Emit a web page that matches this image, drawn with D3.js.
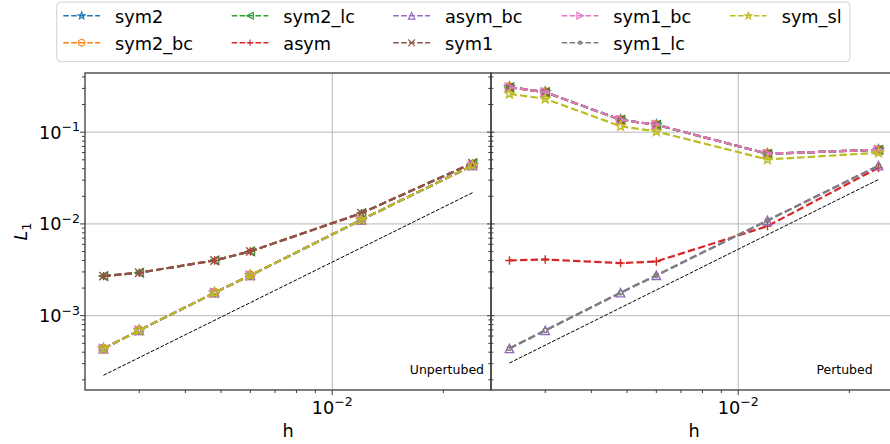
<!DOCTYPE html>
<html>
<head>
<meta charset="utf-8">
<script src="https://cdn.jsdelivr.net/npm/d3@7"></script>
<style>
  html, body { margin: 0; padding: 0; background: #fff; }
  svg { display: block; font-family: "DejaVu Sans", sans-serif; }
</style>
</head>
<body>
<svg id="chart" width="890" height="444"></svg>
<script>
// ---------------- DATA ----------------
const h = [0.0024, 0.003, 0.0048, 0.006, 0.012, 0.024];

// Unperturbed panel
const unp_sym2    = [4.37e-4, 6.92e-4, 1.78e-3, 2.75e-3, 1.11e-2, 4.34e-2];
const unp_sym2_bc = [4.37e-4, 6.92e-4, 1.78e-3, 2.75e-3, 1.11e-2, 4.34e-2];
const unp_sym2_lc = [2.70e-3, 2.94e-3, 4.00e-3, 5.02e-3, 1.31e-2, 4.60e-2];
const unp_asym    = [2.70e-3, 2.94e-3, 4.00e-3, 5.02e-3, 1.31e-2, 4.60e-2];
const unp_asym_bc = [4.37e-4, 6.92e-4, 1.78e-3, 2.75e-3, 1.11e-2, 4.34e-2];
const unp_sym1    = [2.70e-3, 2.94e-3, 4.00e-3, 5.02e-3, 1.31e-2, 4.60e-2];
const unp_sym1_bc = [4.37e-4, 6.92e-4, 1.78e-3, 2.75e-3, 1.11e-2, 4.34e-2];
const unp_sym1_lc = [4.37e-4, 6.92e-4, 1.78e-3, 2.75e-3, 1.11e-2, 4.34e-2];
const unp_sym_sl  = [4.37e-4, 6.92e-4, 1.78e-3, 2.75e-3, 1.11e-2, 4.34e-2];

// Perturbed panel
const per_sym2    = [0.309, 0.273, 0.1365, 0.1204, 0.0582, 0.0643];
const per_sym2_bc = [0.309, 0.273, 0.1365, 0.1204, 0.0582, 0.0643];
const per_sym2_lc = [0.309, 0.273, 0.1365, 0.1204, 0.0582, 0.0643];
const per_asym    = [4.00e-3, 4.10e-3, 3.74e-3, 3.90e-3, 9.46e-3, 4.10e-2];
const per_asym_bc = [4.40e-4, 6.90e-4, 1.78e-3, 2.75e-3, 1.09e-2, 4.31e-2];
const per_sym1    = [0.309, 0.273, 0.1365, 0.1204, 0.0582, 0.0643];
const per_sym1_bc = [0.309, 0.273, 0.1365, 0.1204, 0.0582, 0.0643];
const per_sym1_lc = [4.40e-4, 6.90e-4, 1.78e-3, 2.75e-3, 1.09e-2, 4.31e-2];
const per_sym_sl  = [0.262, 0.231, 0.1162, 0.1017, 0.0504, 0.0597];

// Reference (second-order) lines
const hRef = [0.0024, 0.024];
const refUnp = [2.24e-4, 2.19e-2];
const refPer = [3.05e-4, 3.05e-2];

const seriesNames = ["sym2", "sym2_bc", "sym2_lc", "asym", "asym_bc", "sym1", "sym1_bc", "sym1_lc", "sym_sl"];
const seriesColors = ["#1f77b4", "#ff7f0e", "#2ca02c", "#d62728", "#9467bd", "#8c564b", "#e377c2", "#7f7f7f", "#bcbd22"];
const seriesMarkers = ["star", "circle", "triLeft", "plus", "triUp", "x", "triRight", "point", "star"];

const unpValues = [unp_sym2, unp_sym2_bc, unp_sym2_lc, unp_asym, unp_asym_bc, unp_sym1, unp_sym1_bc, unp_sym1_lc, unp_sym_sl];
const perValues = [per_sym2, per_sym2_bc, per_sym2_lc, per_asym, per_asym_bc, per_sym1, per_sym1_bc, per_sym1_lc, per_sym_sl];

const yTickValues = [1e-3, 1e-2, 1e-1];
const xTickValues = [1e-2];
const panelLabels = ["Unpertubed", "Pertubed"];

// ---------------- MARKERS ----------------
function markerPath(type, r) {
  if (type === "star") {
    let p = [];
    for (let i = 0; i < 10; i++) {
      const a = -Math.PI / 2 + i * Math.PI / 5;
      const rr = i % 2 === 0 ? r * 1.15 : r * 0.48;
      p.push([rr * Math.cos(a), rr * Math.sin(a)]);
    }
    return "M" + p.map(q => q[0].toFixed(2) + "," + q[1].toFixed(2)).join("L") + "Z";
  }
  if (type === "circle") return d3.symbol(d3.symbolCircle, Math.PI * r * r)();
  if (type === "point") return d3.symbol(d3.symbolCircle, Math.PI * (r * 0.5) * (r * 0.5))();
  if (type === "triUp") return `M0,${-r}L${-r},${r}L${r},${r}Z`;
  if (type === "triLeft") return `M${-r},0L${r},${-r}L${r},${r}Z`;
  if (type === "triRight") return `M${r},0L${-r},${-r}L${-r},${r}Z`;
  if (type === "plus") return `M${-r},0H${r}M0,${-r}V${r}`;
  if (type === "x") return `M${-r},${-r}L${r},${r}M${-r},${r}L${r},${-r}`;
  return "";
}

// ---------------- LAYOUT ----------------
const svg = d3.select("#chart");
const plotTop = 73, plotBottom = 390;
const panels = [
  { x0: 85, x1: 491, values: unpValues, ref: refUnp, label: panelLabels[0], labelX: 484 },
  { x0: 491, x1: 897, values: perValues, ref: refPer, label: panelLabels[1], labelX: 872.7 }
];
const y = d3.scaleLog().domain([Math.pow(10, -3.81), Math.pow(10, -0.355)]).range([plotBottom, plotTop]);
const xDomain = [0.0024 / Math.pow(10, 0.05), 0.024 * Math.pow(10, 0.05)];

svg.append("rect").attr("width", 890).attr("height", 444).attr("fill", "#fff");

const defs = svg.append("defs");
const FS = 17.7;

function minorTicks(domain) {
  const out = [];
  for (let e = -5; e <= 1; e++) {
    for (let m = 2; m <= 9; m++) {
      const v = m * Math.pow(10, e);
      if (v >= domain[0] && v <= domain[1]) out.push(v);
    }
  }
  return out;
}

panels.forEach((P, pi) => {
  const x = d3.scaleLog().domain(xDomain).range([P.x0, P.x1]);
  const g = svg.append("g");
  const clipId = "clip" + pi;
  defs.append("clipPath").attr("id", clipId)
    .append("rect").attr("x", P.x0).attr("y", plotTop).attr("width", P.x1 - P.x0).attr("height", plotBottom - plotTop);

  // grid
  const grid = g.append("g").attr("stroke", "#b0b0b0").attr("stroke-width", 0.9);
  yTickValues.forEach(v => grid.append("line").attr("x1", P.x0).attr("x2", P.x1).attr("y1", y(v)).attr("y2", y(v)));
  xTickValues.forEach(v => grid.append("line").attr("x1", x(v)).attr("x2", x(v)).attr("y1", plotTop).attr("y2", plotBottom));

  const plot = g.append("g").attr("clip-path", `url(#${clipId})`);
  const line = d3.line().x((d, i) => x(h[i])).y(d => y(d));

  // reference line
  plot.append("path")
    .attr("d", d3.line().x((d, i) => x(hRef[i])).y(d => y(d))(P.ref))
    .attr("fill", "none").attr("stroke", "#000").attr("stroke-width", 1)
    .attr("stroke-dasharray", "3.7,1.6");

  P.values.forEach((vals, si) => {
    const sg = plot.append("g");
    sg.append("path").attr("d", line(vals))
      .attr("fill", "none").attr("stroke", seriesColors[si]).attr("stroke-width", 2.2)
      .attr("stroke-dasharray", "7.4,3.2");
    vals.forEach((v, i) => {
      sg.append("path")
        .attr("d", markerPath(seriesMarkers[si], 4.2))
        .attr("transform", `translate(${x(h[i])},${y(v)})`)
        .attr("fill", "none")
        .attr("stroke", seriesColors[si]).attr("stroke-width", 1.4);
    });
  });

  // spines
  const sp = g.append("g").attr("stroke", "#3a3a3a").attr("stroke-width", 1.3).attr("fill", "none");
  sp.append("rect").attr("x", P.x0).attr("y", plotTop).attr("width", P.x1 - P.x0).attr("height", plotBottom - plotTop);

  // x ticks
  const tk = g.append("g").attr("stroke", "#3a3a3a").attr("stroke-width", 1);
  xTickValues.forEach(v => tk.append("line").attr("x1", x(v)).attr("x2", x(v)).attr("y1", plotBottom).attr("y2", plotBottom + 5));
  minorTicks(xDomain).forEach(v => tk.append("line").attr("x1", x(v)).attr("x2", x(v)).attr("y1", plotBottom).attr("y2", plotBottom + 3));
  xTickValues.forEach(v => {
    const t = g.append("text").attr("x", x(v)).attr("y", 413.5).attr("text-anchor", "middle")
      .attr("font-size", FS).attr("fill", "#000");
    t.append("tspan").text("10");
    t.append("tspan").attr("dy", -7.5).attr("font-size", 12.5).text("\u22122");
  });

  // y ticks
  const yDom = y.domain();
  if (pi === 0) {
    yTickValues.forEach(v => tk.append("line").attr("x1", P.x0 - 5).attr("x2", P.x0).attr("y1", y(v)).attr("y2", y(v)));
    minorTicks(yDom).forEach(v => tk.append("line").attr("x1", P.x0 - 3).attr("x2", P.x0).attr("y1", y(v)).attr("y2", y(v)));
    yTickValues.forEach(v => {
      const t = g.append("text").attr("x", 80).attr("y", y(v) + 6.5).attr("text-anchor", "end")
        .attr("font-size", FS).attr("fill", "#000");
      t.append("tspan").text("10");
      t.append("tspan").attr("dy", -7.5).attr("font-size", 12.5).text("\u2212" + Math.round(-Math.log10(v)));
    });
  } else {
    yTickValues.forEach(v => tk.append("line").attr("x1", P.x0 - 4).attr("x2", P.x0 + 3.5).attr("y1", y(v)).attr("y2", y(v)));
    minorTicks(yDom).forEach(v => tk.append("line").attr("x1", P.x0 - 2.7).attr("x2", P.x0 + 2.3).attr("y1", y(v)).attr("y2", y(v)));
  }

  // panel label
  g.append("text").attr("x", P.labelX).attr("y", 374.3).attr("text-anchor", "end")
    .attr("font-size", 12.5).attr("fill", "#000").text(P.label);

  // x label
  g.append("text").attr("x", (P.x0 + P.x1) / 2).attr("y", 436.5).attr("text-anchor", "middle")
    .attr("font-size", FS).attr("fill", "#000").text("h");
});

// y label
const yl = svg.append("text").attr("transform", "translate(27,231.5) rotate(-90)")
  .attr("text-anchor", "middle").attr("font-size", FS).attr("fill", "#000");
yl.append("tspan").attr("font-style", "italic").text("L");
yl.append("tspan").attr("dy", 4).attr("font-size", 12.5).text("1");

// ---------------- LEGEND ----------------
const lg = svg.append("g");
lg.append("rect").attr("x", 56.7).attr("y", 2).attr("width", 793.3).attr("height", 59.7)
  .attr("rx", 4).attr("fill", "#fff").attr("fill-opacity", 0.8).attr("stroke", "#d0d0d0").attr("stroke-width", 1);
const colHandleX = [63.3, 231.7, 393.3, 561.7, 730];
const colTextX = [115, 283.3, 445, 613.3, 781.7];
const rowY = [15.8, 42.8];
seriesNames.forEach((name, i) => {
  const c = Math.floor(i / 2), r = i % 2;
  const hx = colHandleX[c], hy = rowY[r];
  lg.append("line").attr("x1", hx).attr("x2", hx + 36.7).attr("y1", hy).attr("y2", hy)
    .attr("stroke", seriesColors[i]).attr("stroke-width", 1.5).attr("stroke-dasharray", "5.55,2.4");
  lg.append("path").attr("d", markerPath(seriesMarkers[i], 3.3))
    .attr("transform", `translate(${hx + 18.35},${hy})`)
    .attr("fill", "none")
    .attr("stroke", seriesColors[i]).attr("stroke-width", 1.1);
  lg.append("text").attr("x", colTextX[c]).attr("y", hy + 6.7)
    .attr("font-size", FS).attr("fill", "#000").text(name);
});
</script>
</body>
</html>
